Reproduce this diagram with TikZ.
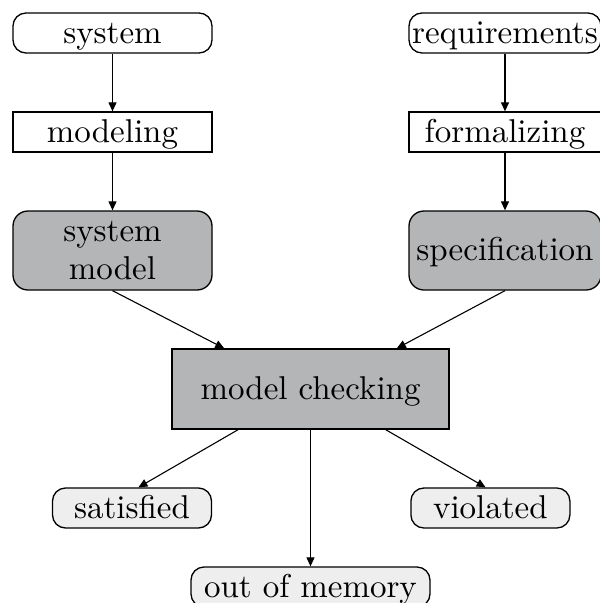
\documentclass[tikz,border=0pt]{standalone}
\usepackage{fontspec}
\setmainfont{lmroman10-regular.otf}
\usetikzlibrary{arrows.meta,calc}
\definecolor{stagegray}{RGB}{179,181,182}
\definecolor{resultgray}{RGB}{238,238,238}
\begin{document}
\begin{tikzpicture}[x=1pt,y=-1pt,
  every node/.style={font=\fontsize{33}{38}\selectfont, inner sep=0pt, line width=1.3pt},
  oneline/.style={text height=24pt, text depth=4pt},
  source/.style={draw, oneline, rounded corners=13pt, fill=white, minimum height=40pt},
  work/.style={draw, oneline, fill=white, minimum height=40pt},
  artifact/.style={draw, rounded corners=15pt, fill=stagegray, align=center, minimum height=79pt},
  checker/.style={draw, oneline, fill=stagegray},
  outcome/.style={draw, oneline, rounded corners=13pt, fill=resultgray, minimum height=40pt},
  flow/.style={-{Triangle[length=9pt,width=8pt]}, line width=1.1pt}]
\useasboundingbox (0,0) rectangle (600,603);
\clip (0,0) rectangle (600,603);

% left column: the system side
\node[source, minimum width=199pt] (sys) at (112.5,33) {system};
\node[work, minimum width=199pt] (mod) at (112.5,132) {modeling};
\node[artifact, minimum width=199pt] (sm) at (112.5,250.5) {system\\model};

% right column: the requirements side
\node[source, minimum width=192pt] (req) at (505,33) {requirements};
\node[work, minimum width=192pt] (frm) at (505,132) {formalizing};
\node[artifact, oneline, minimum width=192pt] (spec) at (505,250.5) {specification};

% the checker and its outcomes
\node[checker, minimum width=277pt, minimum height=80pt] (mc) at (310.5,389) {model checking};
\node[outcome, minimum width=159pt] (sat) at (132,508) {satisfied};
\node[outcome, minimum width=159pt] (vio) at (490.4,508) {violated};
\node[outcome, minimum width=239pt] (oom) at (310.5,587) {out of memory};

% connectors
\draw[flow] (sys) -- (mod);
\draw[flow] (mod) -- (sm);
\draw[flow] (req) -- (frm);
\draw[flow] (frm) -- (spec);
\draw[flow] (sm.south) -- ($(mc.north west)!0.19!(mc.north east)$);
\draw[flow] (spec.south) -- ($(mc.north west)!0.81!(mc.north east)$);
\draw[flow] ($(mc.south west)!0.24!(mc.south east)$) -- ($(sat.north west)!0.54!(sat.north east)$);
\draw[flow] (mc.south) -- (oom.north);
\draw[flow] ($(mc.south west)!0.77!(mc.south east)$) -- ($(vio.north west)!0.47!(vio.north east)$);
\end{tikzpicture}
\end{document}
